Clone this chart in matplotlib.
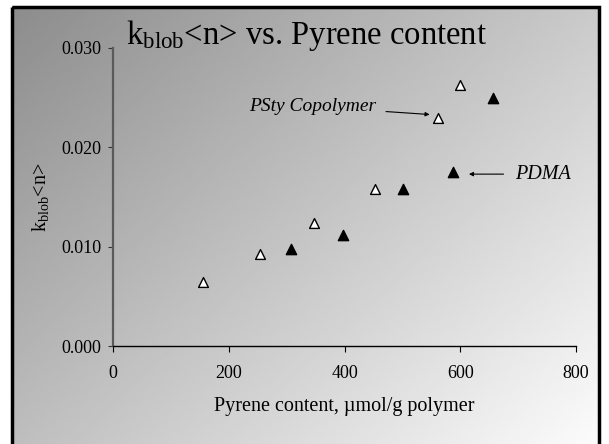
import numpy as np
import matplotlib.pyplot as plt
from matplotlib.patches import Rectangle

plt.rcParams['font.family'] = ['Liberation Serif', 'DejaVu Serif']
plt.rcParams['mathtext.fontset'] = 'custom'
plt.rcParams['mathtext.rm'] = 'Liberation Serif'
plt.rcParams['mathtext.it'] = 'Liberation Serif:italic'

# =========================
# Data
# =========================
psty_x = [156, 254, 348, 453, 562, 600]
psty_y = [0.00647, 0.00926, 0.0124, 0.0158, 0.0229, 0.0263]

pdma_x = [308, 398, 501, 588, 657]
pdma_y = [0.0098, 0.0112, 0.0158, 0.0175, 0.0250]

x_ticks = [0, 200, 400, 600, 800]
y_ticks = [0.000, 0.010, 0.020, 0.030]

# =========================
# Figure + gradient background
# =========================
W, H = 609, 444
fig = plt.figure(figsize=(W / 100, H / 100), dpi=100)

bg = fig.add_axes([0, 0, 1, 1], zorder=0)
bg.set_xlim(0, W)
bg.set_ylim(H, 0)
bg.axis('off')
gx, gy = np.meshgrid(np.linspace(0, 1, 300), np.linspace(0, 1, 220))
grad = 0.55 + 0.44 * (gx * 0.55 + gy * 0.45)
bg.imshow(grad, cmap='gray', vmin=0, vmax=1, extent=[12, 599, 452, 7],
          aspect='auto', interpolation='bilinear')
bg.add_patch(Rectangle((12, 7), 587, 445, fill=False, edgecolor='black', linewidth=2.5))

# =========================
# Plot
# =========================
ax = fig.add_axes([0.1856, 0.2207, 0.7602, 0.6713], zorder=1)
ax.patch.set_alpha(0)

ax.scatter(psty_x, psty_y, marker='^', s=50, facecolors='white', edgecolors='black',
           linewidths=1.0, clip_on=False)
ax.scatter(pdma_x, pdma_y, marker='^', s=55, color='black', clip_on=False)

ax.set_xlim(0, 800)
ax.set_ylim(0, 0.030)
ax.set_xticks(x_ticks)
ax.set_yticks(y_ticks)
ax.set_yticklabels([f"{v:.3f}" for v in y_ticks])

for s in ['top', 'right']:
    ax.spines[s].set_visible(False)
ax.spines['left'].set_color('#5a5a5a')
ax.spines['left'].set_linewidth(1.6)
ax.spines['bottom'].set_color('black')
ax.spines['bottom'].set_linewidth(1.0)

ax.tick_params(axis='x', direction='out', length=4.5, labelsize=13, pad=9)
ax.tick_params(axis='y', direction='out', length=3.6, labelsize=13, pad=5,
               color='#333333')

ax.set_xlabel("Pyrene content, \u00b5mol/g polymer", fontsize=14.5, labelpad=11)
ax.set_ylabel(r"k$_{\mathrm{blob}}$<n>", fontsize=14.5, labelpad=7)

fig.text(0.207, 0.901, r"k$_{\mathrm{blob}}$<n> vs. Pyrene content", fontsize=23.5,
         ha='left', va='baseline')

ax.annotate("PSty Copolymer", xy=(547, 0.0233), xytext=(455, 0.0241),
            fontsize=14, style='italic', ha='right', va='center',
            arrowprops=dict(arrowstyle='-|>', color='black', lw=0.8,
                            mutation_scale=6, shrinkA=5, shrinkB=0))
ax.annotate("PDMA", xy=(615, 0.0173), xytext=(694, 0.0173),
            fontsize=14.5, style='italic', ha='left', va='center',
            arrowprops=dict(arrowstyle='-|>', color='black', lw=0.8,
                            mutation_scale=6, shrinkA=6, shrinkB=0))

fig.savefig("out.png", dpi=100)
